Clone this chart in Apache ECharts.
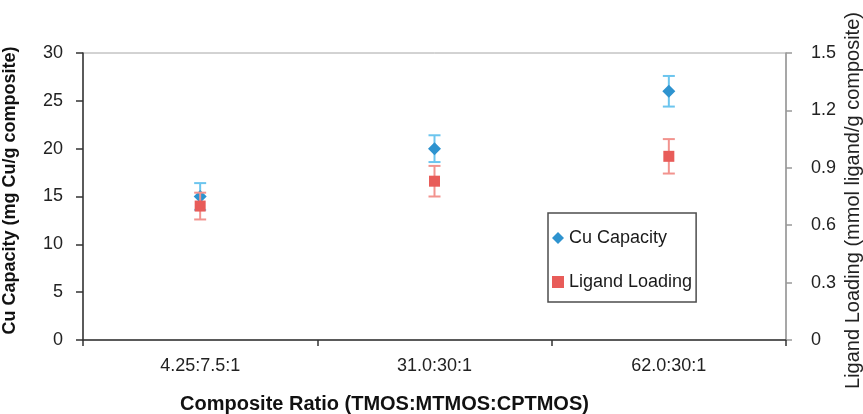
<!DOCTYPE html>
<html>
<head>
<meta charset="utf-8">
<script src="https://cdn.jsdelivr.net/npm/echarts@6/dist/echarts.min.js"></script>
<style>
  html, body { margin: 0; padding: 0; background: #ffffff; }
  #chart { width: 863px; height: 414px; }
</style>
</head>
<body>
<div id="chart"></div>
<script>
// Composite ratios on the category axis
const categories = ['4.25:7.5:1', '31.0:30:1', '62.0:30:1'];

// Cu capacity (mg Cu/g composite) with its error half-width
const cuCapacity = [15, 20, 26];
const cuError = [1.4, 1.4, 1.6];

// Ligand loading (mmol ligand/g composite) with its error half-width
const ligandLoading = [0.70, 0.83, 0.96];
const ligandError = [0.07, 0.08, 0.09];

// Axis tick values
const leftTicks = [0, 5, 10, 15, 20, 25, 30];
const rightTicks = [0, 0.3, 0.6, 0.9, 1.2, 1.5];

const FONT = "'Liberation Sans', Arial, Helvetica, sans-serif";

function errorRows(values, errors) {
  return values.map((v, i) => [i, v - errors[i], v + errors[i]]);
}

function errorBarRenderer(color) {
  return function (params, api) {
    const x = api.value(0);
    const lo = api.coord([x, api.value(1)]);
    const hi = api.coord([x, api.value(2)]);
    const half = 6;
    const style = { stroke: color, lineWidth: 2 };
    return {
      type: 'group',
      children: [
        { type: 'line', shape: { x1: lo[0], y1: lo[1], x2: hi[0], y2: hi[1] }, style },
        { type: 'line', shape: { x1: hi[0] - half, y1: hi[1], x2: hi[0] + half, y2: hi[1] }, style },
        { type: 'line', shape: { x1: lo[0] - half, y1: lo[1], x2: lo[0] + half, y2: lo[1] }, style }
      ]
    };
  };
}

const chart = echarts.init(document.getElementById('chart'), null, { renderer: 'canvas' });

chart.setOption({
  animation: false,
  backgroundColor: '#ffffff',
  textStyle: { fontFamily: FONT },
  grid: {
    left: 83, right: 77, top: 53, bottom: 74,
    containLabel: false,
    outerBoundsMode: 'none',
    show: true, borderColor: '#a6a6a6', borderWidth: 1,
    backgroundColor: 'transparent'
  },
  legend: {
    data: [
      { name: 'Cu Capacity', icon: 'diamond' },
      { name: 'Ligand Loading', icon: 'rect' }
    ],
    orient: 'vertical',
    left: 548, top: 213,
    itemWidth: 12, itemHeight: 12,
    itemGap: 26,
    padding: [16, 4, 11, 4],
    backgroundColor: '#ffffff',
    borderColor: '#4d4d4d',
    borderWidth: 1.5,
    textStyle: { fontSize: 18, color: '#1a1a1a', fontFamily: FONT, lineHeight: 18 }
  },
  xAxis: {
    type: 'category',
    data: categories,
    name: 'Composite Ratio (TMOS:MTMOS:CPTMOS)',
    nameLocation: 'middle',
    nameGap: 54,
    nameMoveOverlap: false,
    nameTextStyle: {
      fontSize: 20, fontWeight: 'bold', color: '#111', fontFamily: FONT,
      padding: [0, 100, 0, 0]
    },
    axisLine: { lineStyle: { color: '#333', width: 1.5 } },
    axisTick: { show: true, length: 6, lineStyle: { color: '#333', width: 1.5 } },
    axisLabel: { fontSize: 18, color: '#222', margin: 17, fontFamily: FONT },
    splitLine: { show: false }
  },
  yAxis: [
    {
      type: 'value',
      position: 'left',
      min: 0, max: 30, interval: 5,
      name: 'Cu Capacity (mg Cu/g composite)',
      nameLocation: 'middle',
      nameRotate: 90,
      nameGap: 64,
      nameMoveOverlap: false,
      nameTextStyle: {
        fontSize: 18, fontWeight: 'bold', color: '#111', fontFamily: FONT,
        padding: [0, 0, 0, 12]
      },
      axisLine: { show: true, lineStyle: { color: '#333', width: 1.5 } },
      axisTick: { show: true, length: 7, lineStyle: { color: '#333', width: 1.5 } },
      axisLabel: {
        fontSize: 18, color: '#222', margin: 20, fontFamily: FONT,
        customValues: leftTicks,
        formatter: v => String(v)
      },
      splitLine: { show: false }
    },
    {
      type: 'value',
      position: 'right',
      min: 0, max: 1.5, interval: 0.3,
      name: 'Ligand Loading (mmol ligand/g composite)',
      nameLocation: 'middle',
      nameRotate: 90,
      nameGap: 57,
      nameMoveOverlap: false,
      nameTextStyle: {
        fontSize: 20, color: '#222', fontFamily: FONT,
        padding: [0, 8, 0, 0]
      },
      axisLine: { show: true, lineStyle: { color: '#999', width: 1.5 } },
      axisTick: { show: true, length: 6, lineStyle: { color: '#999', width: 1.5 } },
      axisLabel: {
        fontSize: 18, color: '#222', margin: 25, fontFamily: FONT,
        customValues: rightTicks,
        formatter: v => (v === 0 ? '0' : v.toFixed(1))
      },
      splitLine: { show: false }
    }
  ],
  series: [
    {
      type: 'custom',
      name: 'Cu Capacity error',
      yAxisIndex: 0,
      renderItem: errorBarRenderer('#6cc5ee'),
      encode: { x: 0, y: [1, 2] },
      data: errorRows(cuCapacity, cuError),
      z: 2
    },
    {
      type: 'scatter',
      name: 'Cu Capacity',
      yAxisIndex: 0,
      symbol: 'diamond',
      symbolSize: [13, 13],
      itemStyle: { color: '#2e93cf', opacity: 1 },
      data: cuCapacity,
      z: 3
    },
    {
      type: 'custom',
      name: 'Ligand Loading error',
      yAxisIndex: 1,
      renderItem: errorBarRenderer('#f2938e'),
      encode: { x: 0, y: [1, 2] },
      data: errorRows(ligandLoading, ligandError),
      z: 4
    },
    {
      type: 'scatter',
      name: 'Ligand Loading',
      yAxisIndex: 1,
      symbol: 'rect',
      symbolSize: [11, 11],
      itemStyle: { color: '#e85c59', opacity: 1 },
      data: ligandLoading,
      z: 5
    }
  ]
});
</script>
</body>
</html>
